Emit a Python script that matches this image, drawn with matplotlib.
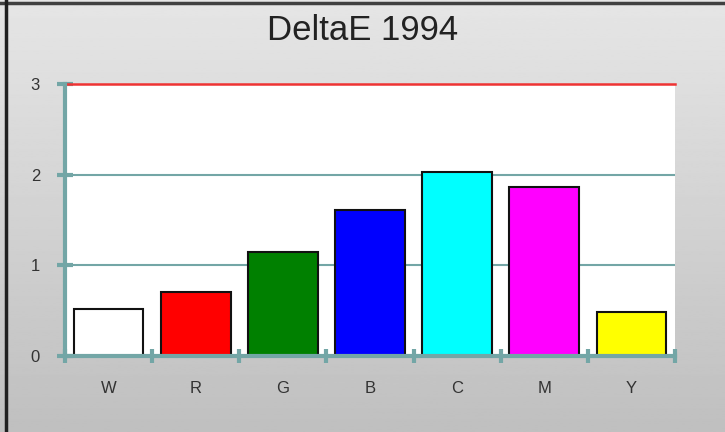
import numpy as np
import matplotlib
matplotlib.use('Agg')
import matplotlib.pyplot as plt
from matplotlib.lines import Line2D

categories = ['W', 'R', 'G', 'B', 'C', 'M', 'Y']
delta_e = [0.52, 0.71, 1.15, 1.61, 2.03, 1.86, 0.49]
bar_colors = ['#ffffff', '#ff0000', '#008000', '#0000ff', '#00ffff', '#ff00ff', '#ffff00']
y_ticks = [0, 1, 2, 3]
limit = 3

teal = '#73a6a6'

fig = plt.figure(figsize=(7.25, 4.32), dpi=100)

# gradient background
bg = fig.add_axes([0, 0, 1, 1], zorder=-10)
grad = np.linspace(0.90, 0.75, 256).reshape(-1, 1)
bg.imshow(grad, cmap='gray', vmin=0, vmax=1, aspect='auto', extent=[0, 1, 0, 1])
bg.set_xlim(0, 1)
bg.set_ylim(0, 1)
bg.axis('off')

# frame lines top/left
fig.add_artist(Line2D([0, 1], [1 - 3/432, 1 - 3/432], color='#404040', lw=2.5, transform=fig.transFigure))
fig.add_artist(Line2D([6/725, 6/725], [0, 1], color='#202020', lw=2.5, transform=fig.transFigure))

ax = fig.add_axes([65/725, 1 - 356/432, 610/725, 272/432])
ax.set_facecolor('white')
x = np.arange(len(categories))
ax.bar(x, delta_e, width=0.8, color=bar_colors, edgecolor='#111111', linewidth=1.5, zorder=3)

ax.set_xlim(-0.5, len(categories) - 0.5)
ax.set_ylim(0, limit)

for v in [1, 2]:
    ax.axhline(v, color=teal, lw=1.5, zorder=1)
ax.axhline(limit, color='#ee3333', lw=1.8, zorder=4, clip_on=False)

for side in ['top', 'right']:
    ax.spines[side].set_visible(False)
for side in ['left', 'bottom']:
    ax.spines[side].set_color(teal)
    ax.spines[side].set_linewidth(3)
    ax.spines[side].set_zorder(5)

ax.set_yticks(y_ticks)
ax.set_yticklabels([str(t) for t in y_ticks], fontsize=12, color='#333333',
                   family='Liberation Sans')
ax.set_xticks(np.arange(len(categories) + 1) - 0.5, minor=False)
ax.set_xticklabels([])
ax.set_xticks(x, minor=True)
ax.set_xticklabels(categories, minor=True, fontsize=12, color='#333333', family='Liberation Sans')
ax.tick_params(axis='x', which='minor', length=0, pad=18)
ax.tick_params(axis='x', which='major', direction='inout', length=10, width=3, color=teal)
ax.tick_params(axis='y', direction='inout', length=12, width=3, color=teal, pad=12)

fig.text(0.5, 1 - 31/432, 'DeltaE 1994', ha='center', va='center', fontsize=25,
         color='#222222', family='Liberation Sans')

fig.savefig('out.png', dpi=100)
